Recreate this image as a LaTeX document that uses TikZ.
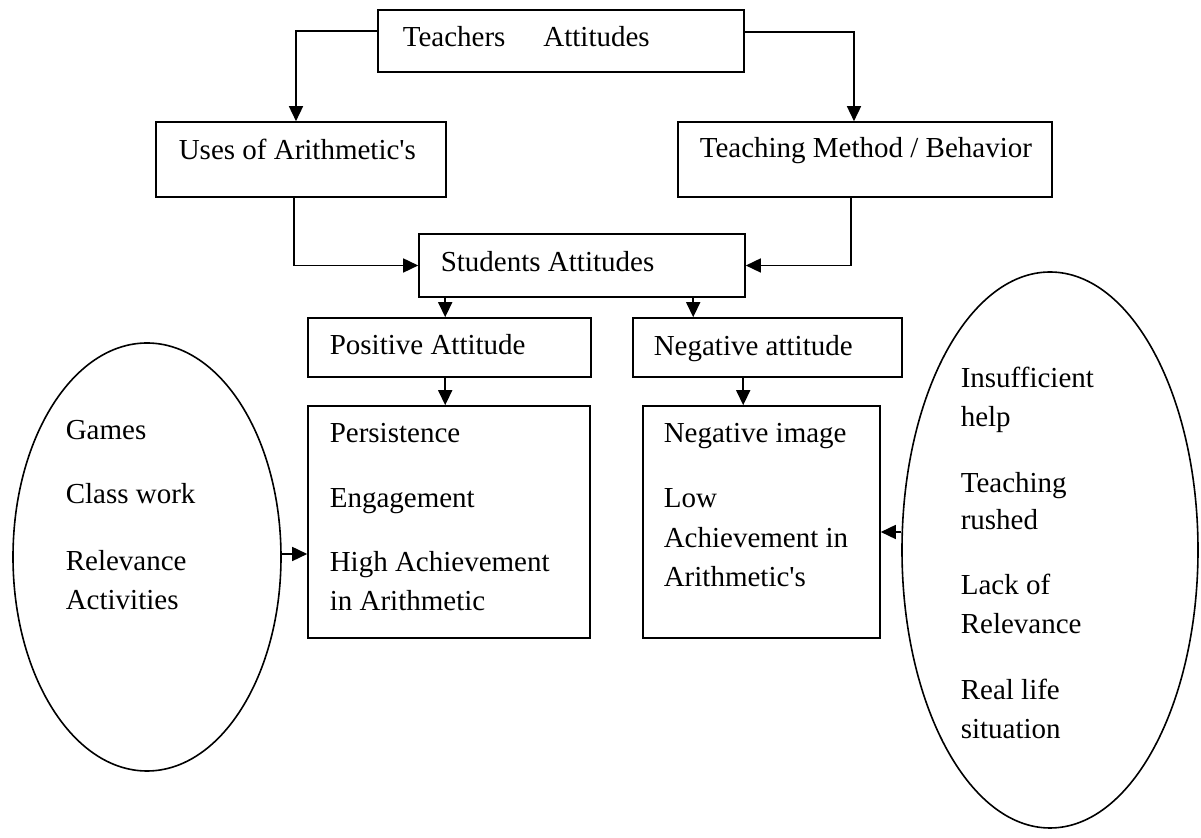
\documentclass[tikz,border=0pt]{standalone}
\usepackage{fontspec}
\setmainfont{Liberation Serif}
\usetikzlibrary{arrows.meta,shapes.geometric,calc,fit}
\begin{document}
\begin{tikzpicture}[x=0.5pt,y=-0.5pt,
  line width=0.8pt,
  box/.style={draw, rectangle, inner sep=0pt},
  oval/.style={draw, ellipse, inner sep=0pt},
  txt/.style={anchor=base west, inner sep=0pt, font=\fontsize{14.5}{19}\selectfont},
  arr/.style={-{Triangle[length=7.5pt,width=7pt]}}]
\useasboundingbox (0,0) rectangle (1201,838);

% boxes
\node[box, fit={(378,10) (744,72)}]    (teach)    {};
\node[box, fit={(156,122) (446,197)}]  (uses)     {};
\node[box, fit={(678,122) (1052,197)}] (teaching) {};
\node[box, fit={(419,234) (745,297)}]  (students) {};
\node[box, fit={(308,318) (591,377)}]  (pos)      {};
\node[box, fit={(633,318) (902,377)}]  (neg)      {};
\node[box, fit={(308,406) (590,638)}]  (persist)  {};
\node[box, fit={(643,406) (880,638)}]  (negimg)   {};

% ovals
\node[oval, minimum width=134pt, minimum height=214pt] (lell) at (147,557) {};
\node[oval, minimum width=148pt, minimum height=278pt] (rell) at (1050,550) {};

% box texts
\node[txt] (teachT)    at (402,47)  {Teachers\hspace{19pt}Attitudes};
\node[txt] (usesT)     at (178,160) {Uses of Arithmetic\textquotesingle s};
\node[txt] (teachingT) at (699,158) {Teaching Method / Behavior};
\node[txt] (studentsT) at (440,272) {Students Attitudes};
\node[txt] (posT)      at (329,355) {Positive Attitude};
\node[txt] (negT)      at (653,356) {Negative attitude};

\node[txt] (pe1) at (329,443) {Persistence};
\node[txt] (pe2) at (329,508) {Engagement};
\node[txt] (pe3) at (329,572) {High Achievement};
\node[txt] (pe4) at (329,611) {in Arithmetic};

\node[txt] (ni1) at (663,443) {Negative image};
\node[txt] (ni2) at (663,508) {Low};
\node[txt] (ni3) at (663,548) {Achievement in};
\node[txt] (ni4) at (663,587) {Arithmetic\textquotesingle s};

% oval texts
\node[txt] (le1) at (65,440) {Games};
\node[txt] (le2) at (65,504) {Class work};
\node[txt] (le3) at (65,571) {Relevance};
\node[txt] (le4) at (65,610) {Activities};

\node[txt] (re1) at (960,388) {Insufficient};
\node[txt] (re2) at (960,427) {help};
\node[txt] (re3) at (960,493) {Teaching};
\node[txt] (re4) at (960,530) {rushed};
\node[txt] (re5) at (960,595) {Lack of};
\node[txt] (re6) at (960,634) {Relevance};
\node[txt] (re7) at (960,700) {Real life};
\node[txt] (re8) at (960,739) {situation};

% connectors
\draw[arr] ($(teach.north west)+(0,22)$) -| ($(uses.north)+(-5,0)$);
\draw[arr] ($(teach.north east)+(0,23)$) -| ($(teaching.north)+(-11,0)$);
\draw[arr] ($(uses.south)+(-7,0)$) |- (students.west);
\draw[arr] ($(teaching.south)+(-14,0)$) |- (students.east);
\draw[arr] ($(students.south west)+(27,0)$) coordinate (sp) -- (sp |- pos.north);
\draw[arr] ($(students.south west)+(275,0)$) coordinate (sn) -- (sn |- neg.north);
\draw[arr] ($(pos.south west)+(138,0)$) coordinate (pp) -- (pp |- persist.north);
\draw[arr] ($(neg.south west)+(111,0)$) coordinate (nn) -- (nn |- negimg.north);
\draw[arr] ($(lell.east)+(0,-3)$) coordinate (le) -- (le -| persist.west);
\draw[arr] ($(rell.west)+(0,-18)$) coordinate (re) -- (re -| negimg.east);
\end{tikzpicture}
\end{document}
